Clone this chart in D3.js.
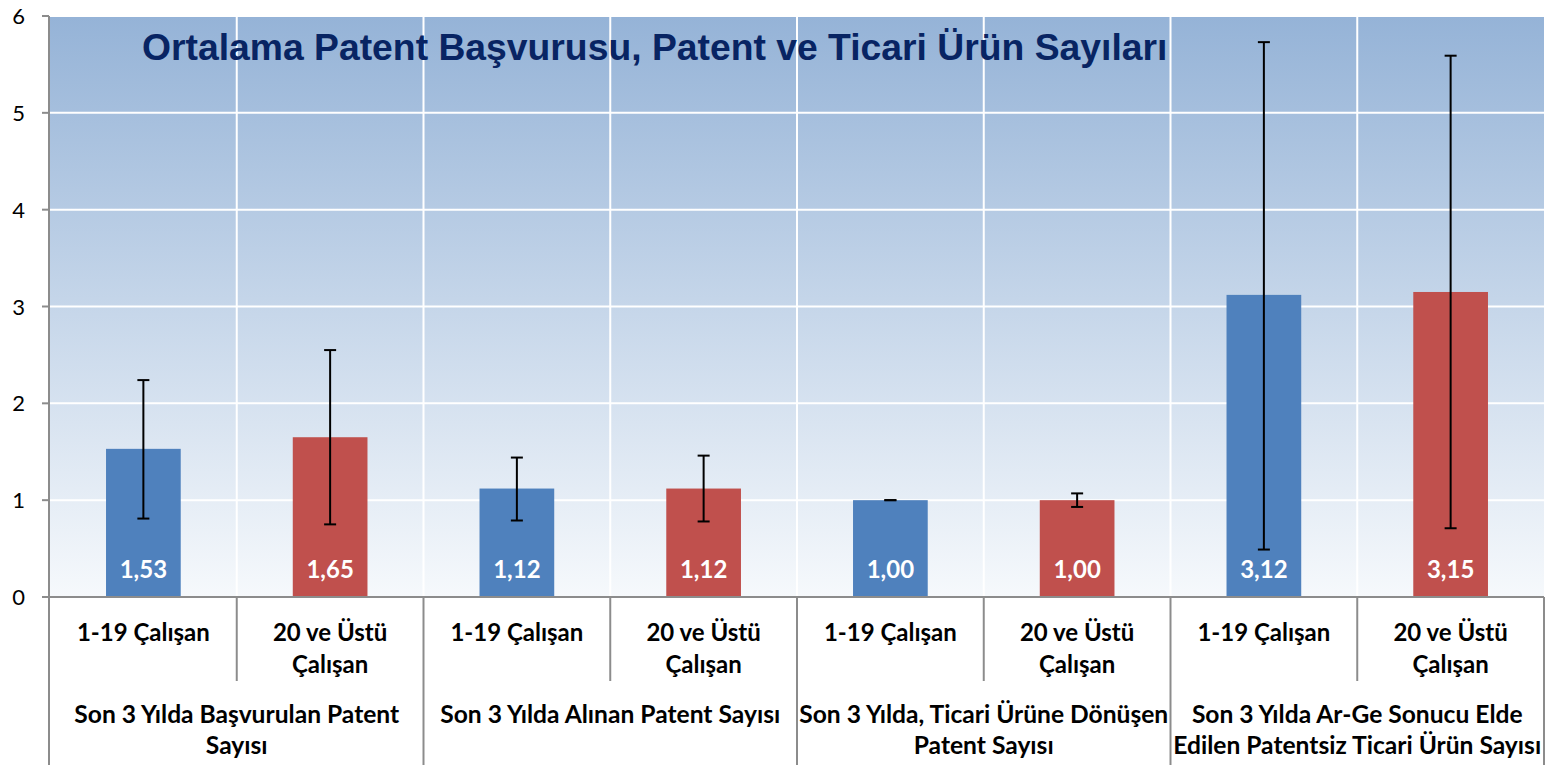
<!DOCTYPE html>
<html>
<head>
<meta charset="utf-8">
<script src="https://cdn.jsdelivr.net/npm/d3@7"></script>
<style>
  html, body { margin: 0; padding: 0; background: #ffffff; }
  svg { display: block; }
</style>
</head>
<body>
<svg id="chart" width="1546" height="765"></svg>
<script>
// Ortalama değerler ve hata çubuğu sınırları
const groups = [
  ["Son 3 Yılda Başvurulan Patent", "Sayısı"],
  ["Son 3 Yılda Alınan Patent Sayısı"],
  ["Son 3 Yılda, Ticari Ürüne Dönüşen", "Patent Sayısı"],
  ["Son 3 Yılda Ar-Ge Sonucu Elde", "Edilen Patentsiz Ticari Ürün Sayısı"]
];
const subgroups = [["1-19 Çalışan"], ["20 ve Üstü", "Çalışan"]];
const values   = [1.53, 1.65, 1.12, 1.12, 1.00, 1.00, 3.12, 3.15];
const errLow   = [0.81, 0.75, 0.79, 0.78, 1.00, 0.93, 0.49, 0.71];
const errHigh  = [2.24, 2.55, 1.44, 1.46, 1.00, 1.07, 5.73, 5.59];
const yTicks   = [0, 1, 2, 3, 4, 5, 6];
const seriesColors = ["#4f81bd", "#c0504d"];
const title = "Ortalama Patent Başvurusu, Patent ve Ticari Ürün Sayıları";

const svg = d3.select("#chart");
const plot = { left: 50, right: 1544, top: 16, bottom: 597 };
const fontCal = "Lato, 'Open Sans', sans-serif";

const x = d3.scaleBand()
  .domain(d3.range(values.length))
  .range([plot.left, plot.right])
  .paddingInner(0).paddingOuter(0);
const y = d3.scaleLinear().domain([0, 6]).range([plot.bottom, plot.top]);

// Arka plan geçişi
const defs = svg.append("defs");
const grad = defs.append("linearGradient")
  .attr("id", "bg").attr("x1", 0).attr("y1", 0).attr("x2", 0).attr("y2", 1);
grad.append("stop").attr("offset", "0%").attr("stop-color", "#95b3d7");
grad.append("stop").attr("offset", "100%").attr("stop-color", "#f6f9fc");

svg.append("rect")
  .attr("x", plot.left).attr("y", plot.top)
  .attr("width", plot.right - plot.left).attr("height", plot.bottom - plot.top)
  .attr("fill", "url(#bg)");

// Izgara çizgileri
svg.append("g").selectAll("line").data(yTicks.filter(d => d > 0)).join("line")
  .attr("x1", plot.left).attr("x2", plot.right)
  .attr("y1", d => y(d)).attr("y2", d => y(d))
  .attr("stroke", "#ffffff").attr("stroke-width", 2);
svg.append("g").selectAll("line").data(d3.range(1, values.length)).join("line")
  .attr("x1", d => x(d)).attr("x2", d => x(d))
  .attr("y1", plot.top).attr("y2", plot.bottom)
  .attr("stroke", "#ffffff").attr("stroke-width", 2);

// Başlık
svg.append("text")
  .attr("x", 142).attr("y", 60)
  .attr("font-family", "'Liberation Sans', Arial, sans-serif")
  .attr("font-weight", "bold").attr("font-size", 37.3)
  .attr("fill", "#082463")
  .text(title);

// Çubuklar
const bw = x.bandwidth() * 0.4;
const cx = i => x(i) + x.bandwidth() / 2;
svg.append("g").selectAll("rect").data(values).join("rect")
  .attr("x", (d, i) => cx(i) - bw / 2)
  .attr("width", bw)
  .attr("y", d => y(d))
  .attr("height", d => y(0) - y(d))
  .attr("fill", (d, i) => seriesColors[i % 2]);

// Hata çubukları
const eg = svg.append("g").attr("stroke", "#000000").attr("stroke-width", 2);
values.forEach((v, i) => {
  const c = cx(i);
  eg.append("line").attr("x1", c).attr("x2", c).attr("y1", y(errLow[i])).attr("y2", y(errHigh[i]));
  eg.append("line").attr("x1", c - 6).attr("x2", c + 6).attr("y1", y(errLow[i])).attr("y2", y(errLow[i]));
  eg.append("line").attr("x1", c - 6).attr("x2", c + 6).attr("y1", y(errHigh[i])).attr("y2", y(errHigh[i]));
});

// Değer etiketleri
const fmt = d => d3.format(".2f")(d).replace(".", ",");
svg.append("g").selectAll("text").data(values).join("text")
  .attr("x", (d, i) => cx(i)).attr("y", 578)
  .attr("text-anchor", "middle")
  .attr("font-family", fontCal).attr("font-weight", "bold").attr("font-size", 24)
  .attr("fill", "#ffffff")
  .text(fmt);

// Y ekseni
const axisColor = "#8c8c8c";
svg.append("line")
  .attr("x1", plot.left - 1).attr("x2", plot.left - 1)
  .attr("y1", plot.top).attr("y2", 765)
  .attr("stroke", axisColor).attr("stroke-width", 2);
svg.append("g").selectAll("line").data(yTicks).join("line")
  .attr("x1", plot.left - 8).attr("x2", plot.left - 1)
  .attr("y1", d => y(d)).attr("y2", d => y(d))
  .attr("stroke", axisColor).attr("stroke-width", 2);
svg.append("g").selectAll("text").data(yTicks).join("text")
  .attr("x", 25).attr("y", d => y(d) + 8)
  .attr("text-anchor", "end")
  .attr("font-family", fontCal).attr("font-size", 22)
  .attr("fill", "#000000")
  .text(d => d);

// X ekseni
svg.append("line")
  .attr("x1", plot.left - 8).attr("x2", plot.right)
  .attr("y1", plot.bottom).attr("y2", plot.bottom)
  .attr("stroke", axisColor).attr("stroke-width", 2);
d3.range(1, values.length + 1).forEach(i => {
  const xx = i === values.length ? plot.right : x(i);
  const full = i % 2 === 0;
  svg.append("line")
    .attr("x1", xx).attr("x2", xx)
    .attr("y1", plot.bottom).attr("y2", full ? 765 : 681)
    .attr("stroke", axisColor).attr("stroke-width", 2);
});

// Alt grup etiketleri
const lab = svg.append("g")
  .attr("font-family", fontCal).attr("font-weight", "bold")
  .attr("fill", "#000000").attr("text-anchor", "middle");
values.forEach((v, i) => {
  subgroups[i % 2].forEach((line, k) => {
    lab.append("text").attr("x", cx(i)).attr("y", 641 + k * 32)
      .attr("font-size", 24).text(line);
  });
});
// Grup etiketleri
groups.forEach((g, j) => {
  const gx = (x(2 * j) + (2 * j + 2 === values.length ? plot.right : x(2 * j + 2))) / 2;
  g.forEach((line, k) => {
    lab.append("text").attr("x", gx).attr("y", 723 + k * 31)
      .attr("font-size", 24.6).text(line);
  });
});
</script>
</body>
</html>
